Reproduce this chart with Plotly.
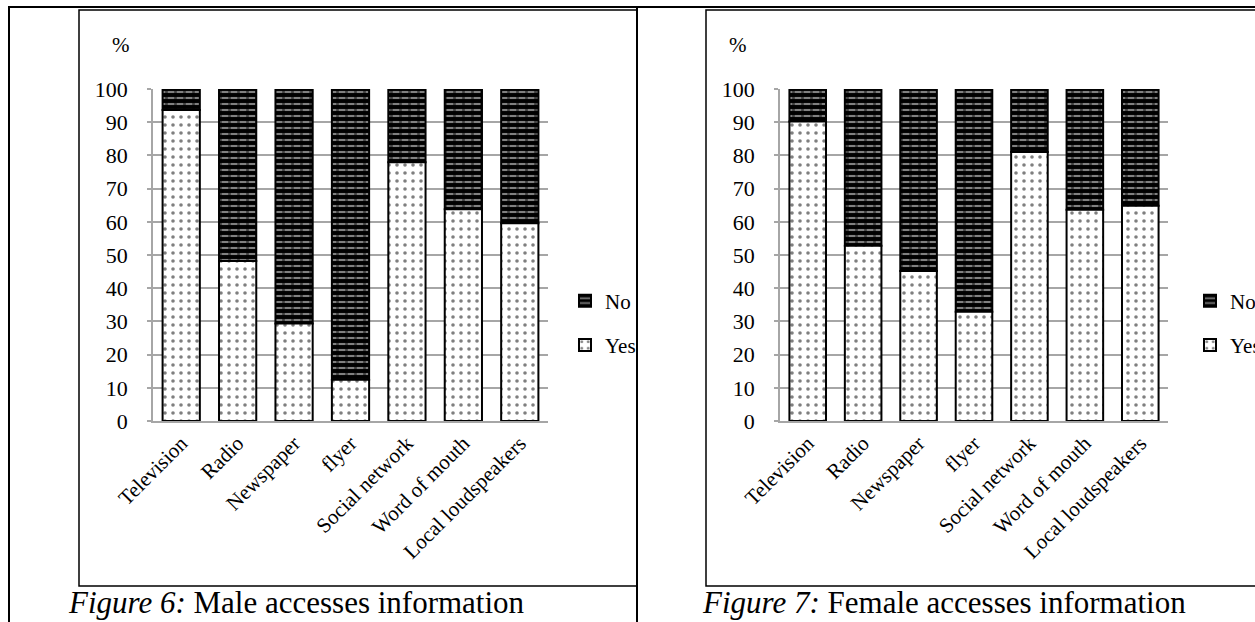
import plotly.graph_objects as go

W, H = 1255, 622

categories = ["Television", "Radio", "Newspaper", "flyer", "Social network",
              "Word of mouth", "Local loudspeakers"]
male_yes = [93.7, 48.2, 29.4, 12.4, 77.9, 63.8, 59.6]
male_no = [round(100 - v, 1) for v in male_yes]
female_yes = [90.2, 52.8, 45.2, 32.9, 81.0, 63.6, 64.8]
female_no = [round(100 - v, 1) for v in female_yes]
y_ticks = [0, 10, 20, 30, 40, 50, 60, 70, 80, 90, 100]
captions = ["<i>Figure 6:</i> Male accesses information",
            "<i>Figure 7:</i> Female accesses information"]

FONT = "Liberation Serif"


def X(px):
    return px / W


def Y(py):
    return 1 - py / H


fig = go.Figure()

panels = [
    dict(xa="x", ya="y", legend="legend", yes=male_yes, no=male_no),
    dict(xa="x2", ya="y2", legend="legend2", yes=female_yes, no=female_no),
]

for p in panels:
    fig.add_trace(go.Bar(
        x=categories, y=p["no"], base=p["yes"], name="No",
        xaxis=p["xa"], yaxis=p["ya"], legend=p["legend"], legendgroup="no" + p["xa"],
        marker=dict(color="black", line=dict(color="black", width=2),
                    pattern=dict(shape="-", bgcolor="black", fgcolor="white",
                                 size=6, solidity=0.35)),
        hoverinfo="skip"))
    fig.add_trace(go.Bar(
        x=categories, y=p["yes"], base=[0] * len(categories), name="Yes",
        xaxis=p["xa"], yaxis=p["ya"], legend=p["legend"], legendgroup="yes" + p["xa"],
        marker=dict(color="white", line=dict(color="black", width=2),
                    pattern=dict(shape=".", bgcolor="white", fgcolor="black",
                                 size=8, solidity=0.16)),
        hoverinfo="skip"))
    # mask that breaks the white stripes of "No" into dashes
    fig.add_trace(go.Bar(
        x=categories, y=p["no"], base=p["yes"], name="No", showlegend=False,
        xaxis=p["xa"], yaxis=p["ya"],
        marker=dict(color="rgba(0,0,0,0)", line=dict(width=0),
                    pattern=dict(shape="|", bgcolor="rgba(0,0,0,0)", fgcolor="black",
                                 size=9, solidity=0.3)),
        hoverinfo="skip"))

grid = "#a6a6a6"
yax = dict(range=[0, 100], tickvals=y_ticks, showgrid=True, gridcolor=grid, gridwidth=1.5,
           zeroline=False, showline=True, linecolor=grid, linewidth=1.5,
           ticks="outside", ticklen=4, tickcolor=grid, tickwidth=1.5,
           ticklabelstandoff=15, automargin=False,
           tickfont=dict(family=FONT, size=22, color="black"), fixedrange=True)
xax = dict(showline=True, linecolor=grid, linewidth=1.5, ticks="", tickangle=-45,
           tickfont=dict(family=FONT, size=21, color="black"), ticklabelstandoff=0,
           automargin=False, fixedrange=True)

fig.update_layout(
    width=W, height=H, autosize=False,
    margin=dict(l=0, r=0, t=0, b=0, pad=0, autoexpand=False),
    paper_bgcolor="white", plot_bgcolor="white",
    barmode="overlay", bargap=0.34,
    xaxis=dict(domain=[X(153), X(548)], anchor="y", **xax),
    yaxis=dict(domain=[Y(421), Y(89)], anchor="x", **yax),
    xaxis2=dict(domain=[X(780), X(1168)], anchor="y2", **xax),
    yaxis2=dict(domain=[Y(421), Y(89)], anchor="x2", **yax),
    legend=dict(x=X(565), y=Y(323), xanchor="left", yanchor="middle",
                traceorder="grouped", tracegroupgap=14, bgcolor="rgba(0,0,0,0)",
                font=dict(family=FONT, size=21, color="black")),
    legend2=dict(x=X(1190), y=Y(323), xanchor="left", yanchor="middle",
                 traceorder="grouped", tracegroupgap=14, bgcolor="rgba(0,0,0,0)",
                 font=dict(family=FONT, size=21, color="black")),
)

# % labels
for xp in (110, 738):
    fig.add_annotation(x=X(xp), y=Y(45), xref="paper", yref="paper", text="%",
                       showarrow=False, yanchor="middle",
                       font=dict(family=FONT, size=21, color="black"))

# captions
for xp, t in zip((66, 700), captions):
    fig.add_annotation(x=X(xp), y=Y(602), xref="paper", yref="paper", text=t,
                       showarrow=False, xanchor="left", yanchor="middle",
                       font=dict(family=FONT, size=31, color="black"))

# table borders and chart boxes
shapes = []
line_k = dict(color="black", width=2)
shapes.append(dict(type="line", xref="paper", yref="paper", x0=X(8), x1=X(1260),
                   y0=Y(7), y1=Y(7), line=line_k))
shapes.append(dict(type="line", xref="paper", yref="paper", x0=X(9), x1=X(9),
                   y0=Y(7), y1=Y(625), line=line_k))
shapes.append(dict(type="line", xref="paper", yref="paper", x0=X(637), x1=X(637),
                   y0=Y(7), y1=Y(625), line=line_k))
for x0, x1 in ((79, 637), (706, 1262)):
    shapes.append(dict(type="rect", xref="paper", yref="paper", x0=X(x0), x1=X(x1),
                       y0=Y(586), y1=Y(10), line=dict(color="black", width=1.5),
                       fillcolor="rgba(0,0,0,0)", layer="below"))
fig.update_layout(shapes=shapes)

fig.write_html("out.html")
